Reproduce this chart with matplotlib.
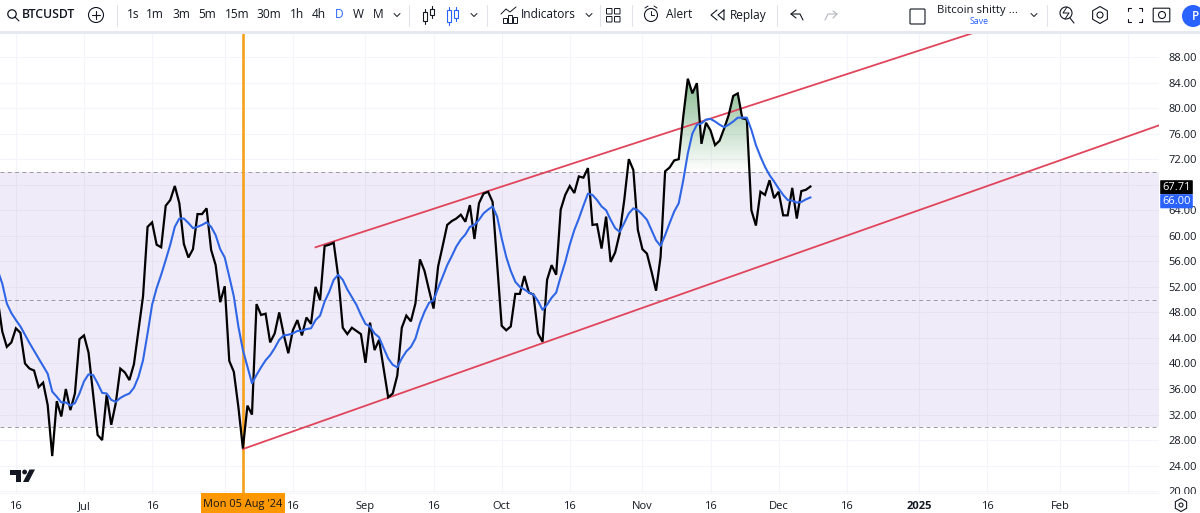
import numpy as np
import pandas as pd
import matplotlib
matplotlib.use('Agg')
import matplotlib.pyplot as plt
import matplotlib.dates as mdates
from matplotlib.patches import Rectangle, Circle, Polygon, FancyBboxPatch, RegularPolygon

plt.rcParams['font.family'] = ['Open Sans', 'DejaVu Sans']

# daily values, 12 Jun 2024 - 8 Dec 2024
rsi = [50.0, 45.0, 42.6, 43.3, 45.5, 44.8, 40.0, 39.2, 38.9, 36.3,
       37.0, 33.5, 25.5, 34.1, 31.7, 36.0, 32.7, 35.3, 43.8, 44.4,
       41.7, 35.3, 28.8, 28.0, 35.1, 30.4, 33.8, 39.2, 38.6, 37.4,
       39.9, 45.2, 50.5, 61.4, 62.1, 58.6, 58.2, 64.7, 65.6, 67.8,
       65.1, 58.7, 56.6, 57.9, 63.4, 63.4, 64.3, 57.8, 55.4, 49.6,
       52.1, 40.4, 38.7, 33.2, 26.7, 33.4, 32.0, 49.3, 47.6, 47.8,
       43.3, 44.7, 48.0, 44.5, 41.6, 45.2, 46.8, 44.4, 47.2, 46.2,
       52.0, 49.9, 58.4, 58.6, 58.9, 53.6, 45.6, 44.6, 45.6, 45.1,
       44.6, 40.1, 46.4, 42.1, 43.7, 39.2, 34.7, 35.3, 38.1, 45.6,
       47.5, 46.6, 49.4, 56.3, 54.5, 51.5, 48.6, 55.2, 58.4, 61.7,
       62.3, 62.7, 63.3, 62.2, 64.8, 59.5, 65.1, 66.6, 66.9, 65.3,
       55.7, 45.9, 45.2, 45.8, 50.9, 50.9, 53.7, 51.1, 50.8, 44.7,
       43.4, 53.1, 55.4, 53.9, 64.1, 66.4, 67.8, 66.7, 69.3, 69.1,
       70.6, 61.7, 61.8, 58.0, 63.0, 55.9, 57.4, 60.4, 65.6, 72.0,
       70.3, 60.9, 57.9, 57.2, 54.4, 51.4, 56.7, 70.1, 70.7, 71.8,
       72.0, 78.7, 84.6, 82.3, 83.9, 74.4, 77.7, 76.5, 74.2, 74.9,
       76.8, 78.9, 81.9, 82.3, 78.4, 78.2, 64.0, 61.6, 66.9, 66.4,
       68.7, 65.9, 66.9, 63.2, 63.2, 67.5, 62.7, 67.0, 67.2, 67.71]

rsi_ma = [54.6, 52.5, 49.4, 47.9, 46.8, 45.8, 44.5, 43.2, 42.0, 40.8,
          39.6, 38.4, 35.6, 34.8, 33.9, 33.9, 33.4, 33.8, 35.3, 37.2,
          38.3, 38.2, 36.9, 35.4, 35.3, 34.3, 34.0, 34.6, 35.0, 35.3,
          36.2, 37.9, 40.5, 44.7, 49.2, 51.8, 53.9, 56.2, 58.6, 61.4,
          62.7, 62.7, 62.0, 61.2, 61.4, 61.7, 62.1, 61.4, 60.1, 57.9,
          56.6, 53.6, 50.5, 45.8, 42.1, 39.5, 36.9, 38.2, 39.4, 40.5,
          41.3, 42.4, 43.7, 44.4, 44.5, 44.7, 45.1, 45.1, 45.4, 45.5,
          46.8, 47.5, 49.7, 51.2, 53.1, 53.9, 53.1, 51.6, 50.4, 49.2,
          47.6, 46.2, 45.8, 44.7, 44.1, 42.4, 40.8, 39.8, 39.4, 40.8,
          41.9, 42.6, 43.9, 46.3, 48.1, 49.5, 49.9, 51.8, 53.6, 55.4,
          56.8, 58.3, 59.4, 60.2, 61.4, 61.7, 62.5, 63.5, 64.1, 64.6,
          63.0, 59.6, 56.7, 54.5, 52.8, 52.0, 51.6, 51.1, 50.8, 49.8,
          48.4, 49.2, 50.3, 51.1, 53.6, 55.9, 58.6, 60.9, 62.7, 64.7,
          66.6, 66.4, 65.6, 64.6, 64.0, 62.5, 61.2, 60.6, 62.0, 63.5,
          64.3, 64.0, 63.3, 62.5, 60.9, 59.3, 58.4, 60.1, 62.0, 63.8,
          65.1, 68.7, 72.9, 76.0, 77.4, 77.6, 78.2, 78.3, 77.9, 77.4,
          77.0, 77.4, 77.9, 78.5, 78.5, 78.5, 76.6, 74.2, 72.4, 70.8,
          69.5, 68.5, 67.4, 66.4, 65.6, 65.5, 65.2, 65.3, 65.7, 66.0]

dates = pd.date_range('2024-06-12', periods=len(rsi))

x_tick_dates = ['2024-06-16', '2024-07-01', '2024-07-16', '2024-08-01', '2024-08-16',
                '2024-09-01', '2024-09-16', '2024-10-01', '2024-10-16', '2024-11-01',
                '2024-11-16', '2024-12-01', '2024-12-16', '2025-01-01', '2025-01-16',
                '2025-02-01', '2025-02-16']
x_tick_labels = ['16', 'Jul', '16', '', '16', 'Sep', '16', 'Oct', '16', 'Nov',
                 '16', 'Dec', '16', '2025', '16', 'Feb', '']
y_ticks = [20, 24, 28, 32, 36, 40, 44, 48, 52, 56, 60, 64, 68, 72, 76, 80, 84, 88]
y_labels = ['20.00', '24.00', '28.00', '32.00', '36.00', '40.00', '44.00', '48.00', '52.00',
            '56.00', '60.00', '64.00', '', '72.00', '76.00', '80.00', '84.00', '88.00']

channel_upper_dates = ['2024-08-21', '2025-01-13']
channel_upper = [58.2, 91.8]
channel_lower_dates = ['2024-08-05', '2025-02-23']
channel_lower = [26.6, 77.35]

BLACK = '#000000'
BLUE = '#2f66e6'
RED = '#e0455c'
ORANGE = '#f5a11c'
GRID = '#f3f5fa'
TEXT = '#131722'
BW, BH = 1200, 513

fig = plt.figure(figsize=(BW / 100, BH / 100), dpi=100)
ax = fig.add_axes([0, (BH - 493) / BH, 1159 / BW, (493 - 33) / BH])

t = mdates.date2num(pd.to_datetime(dates))
px_day = 4.54
x0 = mdates.date2num(pd.Timestamp('2024-07-01'))

ax.axhspan(30, 70, color='#7e57c2', alpha=0.115, lw=0, zorder=1)
for lvl in [30, 50, 70]:
    ax.axhline(lvl, color='#9a9aa4', lw=0.7, dashes=(4, 3.5), zorder=2)

# overbought gradient, drawn under the line and clipped to the last area above 70
fill = ax.fill_between(t, 70, rsi, where=np.array(rsi) >= 70, interpolate=True, color='none', lw=0)
grad = np.zeros((200, 2, 4))
grad[:, :, 0] = 0.22
grad[:, :, 1] = 0.55
grad[:, :, 2] = 0.28
grad[:, :, 3] = np.linspace(0.62, 0.0, 200)[:, None]
im = ax.imshow(grad, extent=(t[0], t[-1], 70, 85), aspect='auto', origin='upper', zorder=3)
im.set_clip_path(fill.get_paths()[-1], transform=ax.transData)

ax.axvline(mdates.date2num(pd.Timestamp('2024-08-05')), color=ORANGE, lw=1.9, zorder=4)
ax.plot(pd.to_datetime(channel_upper_dates), channel_upper, color=RED, lw=1.3, zorder=5)
ax.plot(pd.to_datetime(channel_lower_dates), channel_lower, color=RED, lw=1.3, zorder=5)
ax.plot(t, rsi, color=BLACK, lw=1.6, zorder=6, solid_joinstyle='miter')
ax.plot(t, rsi_ma, color=BLUE, lw=1.5, zorder=7)

ax.set_xlim(x0 - 84 / px_day, x0 + (1159 - 84) / px_day)
ax.set_ylim(88 - (493 - 57) / 6.385, 88 + (57 - 33) / 6.385)

ax.set_xticks(mdates.date2num(pd.to_datetime(x_tick_dates)))
ax.set_xticklabels(x_tick_labels, fontsize=8, color=TEXT)
ax.set_yticks(y_ticks)
ax.set_yticklabels(y_labels, fontsize=8, color=TEXT)
ax.yaxis.tick_right()
ax.tick_params(axis='x', length=0, pad=6)
ax.tick_params(axis='y', length=0, pad=7)
ax.grid(True, color=GRID, lw=0.8, zorder=0)
ax.set_axisbelow(True)
for lab in ax.get_xticklabels():
    if lab.get_text() == '2025':
        lab.set_fontweight('bold')
for s in ax.spines.values():
    s.set_visible(False)
ax.spines['bottom'].set_visible(True)
ax.spines['bottom'].set_color(GRID)

# toolbar and other screen furniture, in pixel coordinates
ui = fig.add_axes([0, 0, 1, 1], zorder=10)
ui.set_xlim(0, BW)
ui.set_ylim(BH, 0)
ui.axis('off')
ui.patch.set_alpha(0)


def label(x, y, s, size=8.6, color=TEXT, ha='left', weight='normal'):
    ui.text(x, y, s, fontsize=size, color=color, ha=ha, va='center', fontweight=weight)


def seg(xs, ys, color=TEXT, lw=0.8):
    ui.plot(xs, ys, color=color, lw=lw, solid_capstyle='round')


def chevron(x, y=15):
    seg([x - 3, x, x + 3], [y - 1.5, y + 1.5, y - 1.5], lw=0.7)


def candle(x, y0, y1, w=3.5, color=TEXT):
    ui.add_patch(Rectangle((x - w / 2, y0), w, y1 - y0, fill=False, ec=color, lw=0.8))
    seg([x, x], [y0 - 3, y0], color)
    seg([x, x], [y1, y1 + 3], color)


ui.add_patch(Rectangle((0, 0), BW, 31, color='white', zorder=0))
ui.add_patch(Rectangle((0, 31), BW, 2.5, color='#e6e9ef', lw=0, zorder=0))

# search + symbol
ui.add_patch(Circle((12, 14), 4.2, fill=False, ec=TEXT, lw=0.9))
seg([15, 19], [17, 21])
label(22, 15, 'BTCUSDT', size=8.8, weight='semibold')
ui.add_patch(Circle((96, 15), 7.5, fill=False, ec=TEXT, lw=0.8))
seg([92, 100], [15, 15])
seg([96, 96], [11, 19])
seg([117, 117], [5, 26], '#e0e3eb')

interval_labels = ['1s', '1m', '3m', '5m', '15m', '30m', '1h', '4h', 'D', 'W', 'M']
interval_x = [133, 155, 181, 207, 237, 269, 297, 319, 339, 358, 378]
for xp, s in zip(interval_x, interval_labels):
    label(xp, 15, s, ha='center', color='#2962ff' if s == 'D' else TEXT)
chevron(397)
seg([409, 409], [5, 26], '#e0e3eb')
candle(425, 12, 21)
candle(432, 9, 15)
candle(449, 10, 22, color='#2962ff')
candle(456, 10, 18, color='#2962ff')
chevron(474)
seg([487, 487], [5, 26], '#e0e3eb')

# indicators
for xb, h in zip([503, 508, 513], [5, 8, 6]):
    ui.add_patch(Rectangle((xb, 23 - h), 3.5, h, fill=False, ec=TEXT, lw=0.7))
seg([501, 506, 510, 516], [14, 9, 12, 7], lw=0.7)
label(521, 15, 'Indicators')
chevron(589)
seg([600, 600], [5, 26], '#e0e3eb')
for xb, yb in [(607, 9), (615, 9), (607, 17), (615, 17)]:
    ui.add_patch(FancyBboxPatch((xb, yb), 4.5, 4.5, boxstyle='round,pad=0.5', fill=False, ec=TEXT, lw=0.7))
seg([632, 632], [5, 26], '#e0e3eb')

# alert
ui.add_patch(Circle((651, 15), 6.5, fill=False, ec=TEXT, lw=0.8))
seg([651, 651, 654], [11, 15, 15], lw=0.7)
seg([645, 648], [8, 6], lw=0.7)
seg([654, 657], [6, 8], lw=0.7)
label(666, 15, 'Alert')

# replay
seg([717, 711, 717], [10, 15, 20], lw=0.8)
seg([724, 718, 724, 724], [10, 15, 20, 10], lw=0.8)
label(730, 15, 'Replay')
seg([777, 777], [5, 26], '#e0e3eb')

# undo / redo
seg([796, 791, 796], [10, 14, 18], lw=0.8)
seg([791, 800, 803], [14, 14, 20], lw=0.8)
seg([833, 837, 833], [11, 14, 18], '#b2b5be', lw=0.8)
seg([837, 828, 825], [14, 14, 20], '#b2b5be', lw=0.8)

# layout name
ui.add_patch(FancyBboxPatch((911, 10), 13, 13, boxstyle='round,pad=1', fill=False, ec=TEXT, lw=0.8))
label(937, 10, 'Bitcoin shitty ...', size=8.2)
label(979, 21, 'Save', size=6.4, color='#2962ff', ha='center')
chevron(1034)
seg([1047, 1047], [5, 26], '#e0e3eb')

# right icons
ui.add_patch(Circle((1066, 13), 6, fill=False, ec=TEXT, lw=0.8))
seg([1070, 1074], [18, 23])
seg([1067, 1063, 1069, 1065], [7, 13, 13, 19], lw=0.7)
ui.add_patch(RegularPolygon((1100, 15), 6, radius=8.5, fill=False, ec=TEXT, lw=0.8))
ui.add_patch(Circle((1100, 15), 3, fill=False, ec=TEXT, lw=0.8))
for sx, sy in [(-1, -1), (1, -1), (-1, 1), (1, 1)]:
    cx, cy = 1135 + sx * 7, 15 + sy * 7
    seg([cx, cx], [cy, cy - sy * 3])
    seg([cx, cx - sx * 3], [cy, cy])
ui.add_patch(FancyBboxPatch((1154, 9), 15, 12, boxstyle='round,pad=0.8', fill=False, ec=TEXT, lw=0.8))
ui.add_patch(Circle((1162, 15), 3.5, fill=False, ec=TEXT, lw=0.8))
ui.add_patch(Circle((1193, 16), 11, color='#2962ff', lw=0))
label(1192, 16, 'P', size=8.5, color='white', weight='semibold')

# TV logo
ui.add_patch(Polygon([(10, 469.5), (21, 469.5), (21, 482), (15.5, 482), (15.5, 474.5), (10, 474.5)],
                     color='#131722', lw=0))
ui.add_patch(Circle((24.6, 472), 2.4, color='#131722', lw=0))
ui.add_patch(Polygon([(29.5, 469.5), (35, 469.5), (28.5, 482), (23, 482)], color='#131722', lw=0))

# crosshair date tag
ui.add_patch(Rectangle((201, 493), 84, 20, color='#ff9800', lw=0))
label(243, 504, "Mon 05 Aug '24", size=7.9, ha='center')

# price tags
ui.add_patch(FancyBboxPatch((1161, 181), 31, 12.5, boxstyle='round,pad=0.8', color='black', lw=0))
label(1176.5, 187, '67.71', size=8, color='white', ha='center')
ui.add_patch(FancyBboxPatch((1161, 195), 31, 12.5, boxstyle='round,pad=0.8', color='#2962ff', lw=0))
label(1176.5, 201, '66.00', size=8, color='white', ha='center')

# settings hexagon bottom right, mask over cut-off 20.00 label
ui.add_patch(Rectangle((1160, 494), 40, 19, color='white', lw=0))
ui.add_patch(RegularPolygon((1181, 505), 6, radius=6.5, fill=False, ec=TEXT, lw=0.8))
ui.add_patch(Circle((1181, 505), 2, fill=False, ec=TEXT, lw=0.8))

fig.savefig('out.png', dpi=100)
